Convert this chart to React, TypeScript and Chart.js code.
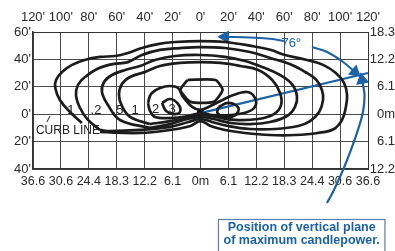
import React, { useEffect, useRef } from "react";
import { Chart, registerables } from "chart.js";

Chart.register(...registerables);

// ---- axis ticks (feet on grid, metres as secondary labels) ----
const xTickValues = [-120, -100, -80, -60, -40, -20, 0, 20, 40, 60, 80, 100, 120];
const xFeetLabels = ["120'", "100'", "80'", "60'", "40'", "20'", "0'", "20'", "40'", "60'", "80'", "100'", "120'"];
const xMeterLabels = ["36.6", "30.6", "24.4", "18.3", "12.2", "6.1", "0m", "6.1", "12.2", "18.3", "24.4", "30.6", "36.6"];
const yTickValues = [-40, -20, 0, 20, 40, 60];
const yFeetLabels = ["40'", "20'", "0'", "20'", "40'", "60'"];
const yMeterLabels = ["12.2", "6.1", "0m", "6.1", "12.2", "18.3"];

// ---- isocandela contours, [feet across, feet along] ----
const contour01: [number, number][] = [
  [-85, -6.4], [-93.5, 1.6], [-100.7, 10.4], [-104, 19], [-103.5, 25], [-99, 31], [-92, 36], [-83, 39.6],
  [-72, 41.8], [-61, 42.5], [-52, 44.7], [-42, 48.3], [-30.5, 51.2], [-18, 52.7], [0, 53.4], [17.5, 52.7],
  [35.5, 50], [50, 47], [60.5, 43.2], [76.3, 39.6], [87.8, 36], [97, 30], [102.8, 22.8], [105, 14],
  [104, 4.5], [101.4, -4.2], [95.6, -10.8], [84, -13.7], [67.7, -15.2], [49.8, -15.2], [31.9, -13.7],
  [17.5, -11.5], [7.2, -8.6], [0, -5], [-7.2, -8.6], [-21.9, -11.5], [-43.3, -13.7], [-72, -13],
];
const contour02: [number, number][] = [
  [-72, -11.5], [-80.6, -4.2], [-86.3, 4.5], [-89.2, 14], [-87.8, 21.3], [-82.7, 27.2], [-74.1, 33],
  [-62.7, 36.6], [-52, 38], [-42, 43.2], [-29, 46.9], [-14.7, 48.3], [0, 49], [17.5, 48.3], [35.5, 45.4],
  [50, 41], [64, 36.6], [75, 30.8], [83, 25], [87, 17.7], [87.8, 10.4], [85, 1.6], [78.5, -5], [70, -8.6],
  [53.5, -10.8], [35.5, -10.8], [19.7, -8.6], [8.3, -5.7], [0, -3.5], [-8.6, -5.7], [-21.9, -9.3],
  [-43.3, -11.5], [-64.8, -12.3], [-72, -11.5],
];
const contour05: [number, number][] = [
  [-36.2, -10], [-57.7, -4.2], [-66.3, 6.7], [-70.6, 16.2], [-69.1, 23.5], [-63.4, 28.6], [-54, 32.3],
  [-43.3, 35.2], [-32.6, 39.6], [-18.3, 42.5], [0, 43.2], [17.5, 41.8], [31.9, 38.8], [44.1, 34.5],
  [57, 28.6], [65.5, 22], [69.1, 13.3], [67.7, 5.3], [62, -1.3], [49.8, -5.7], [35.5, -7.2], [21.5, -6.4],
  [9.3, -3.5], [0, -2], [-9.3, -3.5], [-21.9, -7.2], [-36.2, -10],
];
const contour1: [number, number][] = [
  [-36.2, -7.2], [-50.5, -2], [-56.3, 6], [-58.4, 14], [-56.3, 22], [-50.5, 27.2], [-39.8, 30.8],
  [-29, 35.2], [-14.7, 37.4], [0, 38], [14.3, 37.4], [28.6, 35.2], [41.3, 32.3], [51.4, 25], [57, 15.5],
  [57.7, 6.7], [52.6, 0.1], [41.3, -3.5], [24.7, -4.2], [10.7, -2], [0, -0.6], [-10.7, -2.8], [-21.9, -5],
  [-36.2, -7.2],
];
const contour2: [number, number][] = [
  [-37.6, 8.2], [-35.5, 14.7], [-29, 19.1], [-21.9, 20.6], [-16.1, 19.1], [-12.5, 12.6], [-6, 5.3],
  [0, 3.1], [5.7, 5.3], [14.3, 9.6], [23.6, 14], [33.6, 16.2], [38.6, 12.6], [39.4, 6], [33.6, 1.6],
  [21.5, -0.6], [8.6, -0.6], [0, 0.8], [-8.6, -1.3], [-21.9, -2.8], [-32.6, -2], [-36.2, 2.4], [-37.6, 8.2],
];
const contourHex: [number, number][] = [
  [-9.3, 25], [10.7, 25], [15.8, 17.7], [9.3, 9], [-7.2, 9], [-14.3, 17.7], [-9.3, 25],
];
const contour3Left: [number, number][] = [
  [-27.6, 8.2], [-21.9, 11.1], [-16.1, 7.5], [-14.7, 1.6], [-19.7, 0.1], [-24.7, 2.4], [-27.6, 8.2],
];
const contour3Right: [number, number][] = [
  [12.9, 5.3], [20, 8.2], [27.2, 4.5], [25, -0.6], [17.9, -2], [12.2, 0.8], [12.9, 5.3],
];

const contourLabels = ["1", ".2", ".5", "1", "2", "3"];
const contourLabelX = [-92.8, -74.9, -59.1, -46.9, -32.2, -20.4];
const contourLabelY = [3.1, 3.1, 3.1, 3.1, 3.8, 3.8];

// ---- luminaire, plane of maximum candlepower, curb ----
const luminaire: [number, number][] = [[0, 0.8]];
const maxPlane: [number, number][] = [[0, 0.8], [120, 30.1]];
const angleArcA: [number, number][] = [[17.5, 56.4], [35.5, 56.0], [49.8, 55], [60.5, 53.4]];
const angleArcB: [number, number][] = [[79.9, 49], [90.7, 45.4], [102.1, 38.1], [110.7, 30.8]];
const leader: [number, number][] = [
  [115.7, 25], [117.5, 14], [116.4, 1.6], [112.8, -11.5], [107.8, -26.1], [102.1, -40.7], [95.6, -55.3], [90.6, -64.8],
];
const curbTick: [number, number][] = [[-110, -5.7], [-107.8, -1.3]];
const curbText = "CURB LINE";
const curbTextAt: [number, number] = [-117.9, -12.2];
const angleText = "76°";
const angleTextAt: [number, number] = [65, 52];
const noteLines = ["Position of vertical plane", "of maximum candlepower."];
const noteBox: [number, number, number, number] = [12.5, -76.5, 132.5, -100.5];

const INK = "#1c1c1c";
const BLUE = "#1b62a6";
const GRID = "#4a4a4a";
const SANS = "'Liberation Sans', Arial, sans-serif";

const pts = (a: [number, number][]) => a.map(([x, y]) => ({ x, y }));

const contourSet = (data: [number, number][], tension = 0.4) => ({
  data: pts(data),
  showLine: true,
  borderColor: INK,
  borderWidth: 2.7,
  pointRadius: 0,
  tension,
  fill: false,
});

const overlay = {
  id: "overlay",
  afterDatasetsDraw(chart: any) {
    const { ctx, scales } = chart;
    const px = (v: number) => scales.x.getPixelForValue(v);
    const py = (v: number) => scales.y.getPixelForValue(v);
    ctx.save();
    ctx.textAlign = "center";
    ctx.textBaseline = "middle";
    ctx.fillStyle = "#222";
    ctx.font = `13px ${SANS}`;
    contourLabels.forEach((t, i) => ctx.fillText(t, px(contourLabelX[i]), py(contourLabelY[i])));
    ctx.font = `12px ${SANS}`;
    ctx.textAlign = "left";
    ctx.fillText(curbText, px(curbTextAt[0]), py(curbTextAt[1]));
    ctx.textAlign = "center";
    ctx.fillStyle = BLUE;
    ctx.font = `13px ${SANS}`;
    ctx.fillText(angleText, px(angleTextAt[0]), py(angleTextAt[1]));
    // note box
    const [bx0, by0, bx1, by1] = noteBox;
    const l = px(bx0), t = py(by0), r = px(bx1), b = py(by1);
    ctx.fillStyle = "#fff";
    ctx.fillRect(l, t, r - l, b - t);
    ctx.strokeStyle = "#5b7ea6";
    ctx.lineWidth = 1.2;
    ctx.strokeRect(l + 0.5, t + 0.5, r - l - 1, b - t);
    ctx.fillStyle = BLUE;
    ctx.font = `bold 12.5px ${SANS}`;
    const cx = (l + r) / 2;
    ctx.fillText(noteLines[0], cx, t + 9);
    ctx.fillText(noteLines[1], cx, t + 22);
    ctx.restore();
  },
};

export default function App() {
  const ref = useRef<HTMLCanvasElement | null>(null);
  useEffect(() => {
    if (!ref.current) return;
    const tickFont = { family: SANS, size: 13 };
    const bottomFont = { family: SANS, size: 12.5 };
    const chart = new Chart(ref.current, {
      type: "scatter",
      data: {
        datasets: [
          contourSet(contour01),
          contourSet(contour02),
          contourSet(contour05),
          contourSet(contour1),
          contourSet(contour2, 0.35),
          contourSet(contourHex, 0.2),
          contourSet(contour3Left, 0.4),
          contourSet(contour3Right, 0.4),
          {
            data: pts(curbTick),
            showLine: true,
            borderColor: INK,
            borderWidth: 1,
            pointRadius: 0,
          },
          {
            data: pts(maxPlane),
            showLine: true,
            borderColor: BLUE,
            borderWidth: 2.2,
            pointRadius: 0,
            clip: false,
          },
          {
            data: pts(angleArcA),
            showLine: true,
            borderColor: BLUE,
            borderWidth: 2,
            tension: 0.4,
            pointRadius: [5.5, 0, 0, 0],
            pointStyle: "triangle",
            pointRotation: [272, 0, 0, 0],
            pointBackgroundColor: BLUE,
            pointBorderColor: BLUE,
            clip: false,
          },
          {
            data: pts(angleArcB),
            showLine: true,
            borderColor: BLUE,
            borderWidth: 2,
            tension: 0.4,
            pointRadius: [0, 0, 0, 5.5],
            pointStyle: "triangle",
            pointRotation: [0, 0, 0, 130],
            pointBackgroundColor: BLUE,
            pointBorderColor: BLUE,
            clip: false,
          },
          {
            data: pts(leader),
            showLine: true,
            borderColor: BLUE,
            borderWidth: 2.2,
            tension: 0.4,
            pointRadius: [5.5, 0, 0, 0, 0, 0, 0, 5.5],
            pointStyle: "triangle",
            pointRotation: [350, 0, 0, 0, 0, 0, 0, 205],
            pointBackgroundColor: BLUE,
            pointBorderColor: BLUE,
            clip: false,
          },
          {
            data: pts(luminaire),
            pointStyle: "rect",
            pointRadius: 4,
            pointBackgroundColor: "#000",
            pointBorderColor: "#000",
          },
        ] as any,
      },
      options: {
        responsive: false,
        animation: false,
        events: [],
        layout: { padding: 0 },
        plugins: { legend: { display: false }, tooltip: { enabled: false } },
        scales: {
          x: {
            type: "linear",
            position: "top",
            min: -120,
            max: 120,
            afterBuildTicks: (s: any) => { s.ticks = xTickValues.map((value) => ({ value })); },
            afterFit: (s: any) => { s.height = 32; },
            ticks: {
              callback: (_v: any, i: number) => xFeetLabels[i],
              font: tickFont,
              color: "#2a2a2a",
              padding: 7,
              maxRotation: 0,
              autoSkip: false,
            },
            grid: { color: GRID, lineWidth: 1, drawTicks: false },
            border: { color: "#333", width: 1 },
          },
          xm: {
            type: "linear",
            position: "bottom",
            min: -120,
            max: 120,
            afterBuildTicks: (s: any) => { s.ticks = xTickValues.map((value) => ({ value })); },
            afterFit: (s: any) => { s.height = 82; },
            ticks: {
              callback: (_v: any, i: number) => xMeterLabels[i],
              font: bottomFont,
              color: "#2a2a2a",
              padding: 5,
              maxRotation: 0,
              autoSkip: false,
            },
            grid: { display: false, drawTicks: false },
            border: { color: "#333", width: 1.5 },
          },
          y: {
            type: "linear",
            position: "left",
            min: -40,
            max: 60,
            afterBuildTicks: (s: any) => { s.ticks = yTickValues.map((value) => ({ value })); },
            afterFit: (s: any) => { s.width = 33; },
            ticks: {
              callback: (_v: any, i: number) => yFeetLabels[i],
              font: tickFont,
              color: "#2a2a2a",
              padding: 2,
              autoSkip: false,
            },
            grid: { color: GRID, lineWidth: 1, drawTicks: false },
            border: { color: "#333", width: 1.5 },
          },
          ym: {
            type: "linear",
            position: "right",
            min: -40,
            max: 60,
            afterBuildTicks: (s: any) => { s.ticks = yTickValues.map((value) => ({ value })); },
            afterFit: (s: any) => { s.width = 27; },
            ticks: {
              callback: (_v: any, i: number) => yMeterLabels[i],
              font: tickFont,
              color: "#2a2a2a",
              padding: 4,
              crossAlign: "far",
              autoSkip: false,
            },
            grid: { display: false, drawTicks: false },
            border: { color: "#333", width: 1 },
          },
        } as any,
      },
      plugins: [overlay],
    });
    return () => chart.destroy();
  }, []);
  return (
    <div style={{ position: "absolute", left: 0, top: 0, width: 395, height: 251, background: "#fff" }}>
      <canvas ref={ref} width={395} height={251} style={{ display: "block" }} />
    </div>
  );
}
